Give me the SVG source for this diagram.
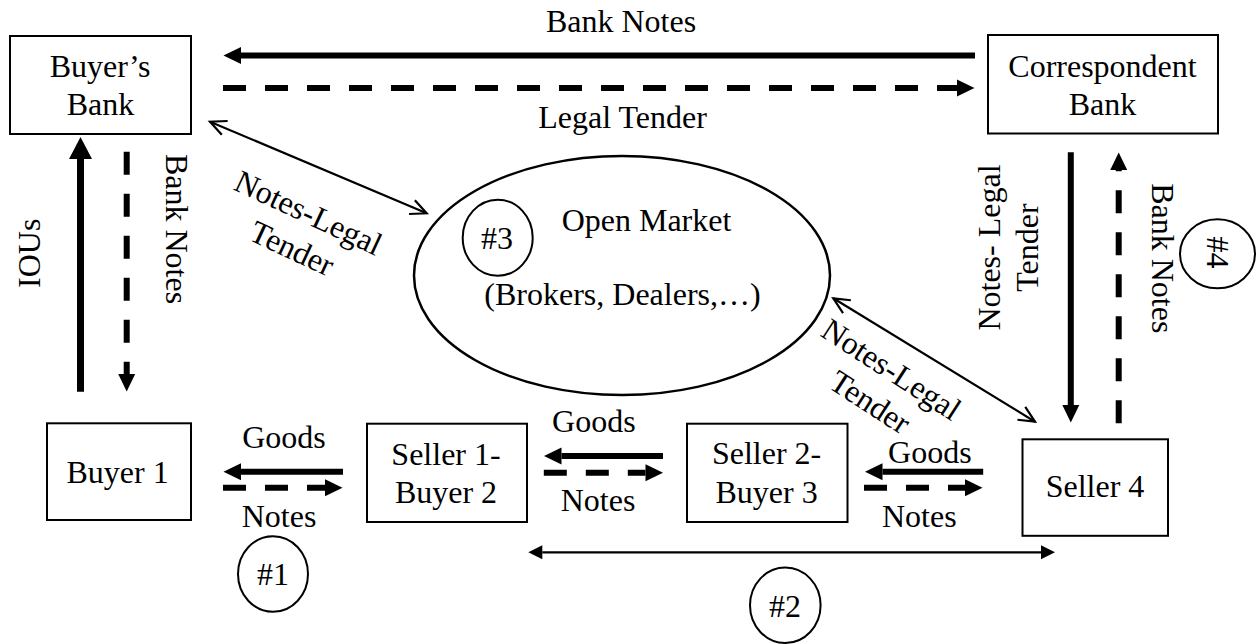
<svg xmlns="http://www.w3.org/2000/svg" width="1258" height="644" viewBox="0 0 1258 644" font-family="'Liberation Serif', 'Times New Roman', 'DejaVu Serif', serif">
<style>
  text { font-family: 'Liberation Serif', 'Times New Roman', 'DejaVu Serif', serif; font-size: 32px; fill: #000; text-anchor: middle; }
  .box { fill: #fff; stroke: #000; stroke-width: 2; }
  .ring { fill: none; stroke: #000; stroke-width: 2; }
  .solid { fill: none; stroke: #000; stroke-width: 6; }
  .dash { fill: none; stroke: #000; stroke-width: 6; stroke-dasharray: 23 19; }
  .thin { fill: none; stroke: #000; stroke-width: 2.2; }
</style>
<defs>
  <marker id="head" markerUnits="userSpaceOnUse" markerWidth="18" markerHeight="18" refX="0" refY="0" orient="auto" overflow="visible">
    <path d="M0,-8.5 L17.5,0 L0,8.5 z" fill="#000"/>
  </marker>
  <marker id="headL" markerUnits="userSpaceOnUse" markerWidth="23" markerHeight="23" refX="0" refY="0" orient="auto" overflow="visible">
    <path d="M0,-11.5 L22,0 L0,11.5 z" fill="#000"/>
  </marker>
  <marker id="headT" markerUnits="userSpaceOnUse" markerWidth="15" markerHeight="15" refX="0" refY="0" orient="auto-start-reverse" overflow="visible">
    <path d="M0,-7 L14,0 L0,7 z" fill="#000"/>
  </marker>
  <marker id="open" markerUnits="userSpaceOnUse" markerWidth="20" markerHeight="20" refX="0" refY="0" orient="auto-start-reverse" overflow="visible">
    <path d="M-16,-7.5 L0,0 L-16,7.5" fill="none" stroke="#000" stroke-width="2.2"/>
  </marker>
</defs>

<g id="connectors">
  <line class="solid" x1="975" y1="55.5" x2="241" y2="55.5" marker-end="url(#head)"/>
  <line class="dash" x1="223" y1="88" x2="957" y2="88" marker-end="url(#head)"/>
  <line class="solid" style="stroke-width:7" x1="80.5" y1="391.7" x2="80.5" y2="159" marker-end="url(#headL)"/>
  <line class="dash" x1="126.7" y1="151.7" x2="126.7" y2="374" marker-end="url(#head)"/>
  <line class="solid" x1="1070.8" y1="152.3" x2="1070.8" y2="405" marker-end="url(#head)"/>
  <line class="dash" x1="1118.7" y1="423.3" x2="1118.7" y2="170" marker-end="url(#head)"/>
  <line class="thin" x1="210" y1="121.7" x2="426.7" y2="213.3" marker-start="url(#open)" marker-end="url(#open)"/>
  <line class="thin" x1="833.3" y1="298.3" x2="1035" y2="421.7" marker-start="url(#open)" marker-end="url(#open)"/>
  <line class="solid" x1="343" y1="471.7" x2="241" y2="471.7" marker-end="url(#head)"/>
  <line class="dash" x1="223" y1="487.7" x2="325" y2="487.7" marker-end="url(#head)"/>
  <line class="solid" x1="663" y1="456" x2="561.5" y2="456" marker-end="url(#head)"/>
  <line class="dash" x1="543.8" y1="472.7" x2="645.5" y2="472.7" marker-end="url(#head)"/>
  <line class="solid" x1="983.2" y1="471.7" x2="882.5" y2="471.7" marker-end="url(#head)"/>
  <line class="dash" x1="864" y1="487.7" x2="965" y2="487.7" marker-end="url(#head)"/>
  <line class="thin" x1="542.3" y1="552.3" x2="1041" y2="552.3" marker-start="url(#headT)" marker-end="url(#headT)"/>
</g>

<g id="labels">
  <text x="621" y="31.5">Bank Notes</text>
  <text x="622.5" y="128.3">Legal Tender</text>
  <text transform="translate(40,253.3) rotate(-90)">IOUs</text>
  <text transform="translate(166,229) rotate(90)">Bank Notes</text>
  <text transform="translate(1000,247.5) rotate(-90)">Notes- Legal</text>
  <text transform="translate(1038,247.5) rotate(-90)">Tender</text>
  <text transform="translate(1152,258.3) rotate(90)">Bank Notes</text>
  <text transform="translate(304,222.5) rotate(25)">Notes-Legal</text>
  <text transform="translate(287.5,258) rotate(25)">Tender</text>
  <text transform="translate(885.6,378.4) rotate(33)">Notes-Legal</text>
  <text transform="translate(864.4,411.1) rotate(33)">Tender</text>
  <text x="284" y="448">Goods</text>
  <text x="279" y="526.7">Notes</text>
  <text x="593.8" y="431.7">Goods</text>
  <text x="598" y="511">Notes</text>
  <text x="929.8" y="463.3">Goods</text>
  <text x="919.3" y="526.7">Notes</text>
</g>

<g id="buyers-bank">
  <rect class="box" x="10" y="36" width="181" height="98"/>
  <text x="100" y="76.7">Buyer’s</text>
  <text x="100.5" y="115">Bank</text>
</g>

<g id="correspondent-bank">
  <rect class="box" x="988" y="35" width="230" height="98.5"/>
  <text x="1102.5" y="77.3">Correspondent</text>
  <text x="1102.5" y="115">Bank</text>
</g>

<g id="open-market">
  <ellipse cx="622" cy="275.5" rx="208" ry="119.5" fill="none" stroke="#000" stroke-width="2.5"/>
  <text x="646.5" y="231">Open Market</text>
  <text x="622.5" y="305">(Brokers, Dealers,…)</text>
</g>

<g id="tag-3">
  <ellipse class="ring" cx="497.7" cy="237.7" rx="35" ry="38"/>
  <text x="497" y="249.3">#3</text>
</g>

<g id="buyer-1">
  <rect class="box" x="47" y="423.3" width="144" height="96.7"/>
  <text x="117.6" y="482.7">Buyer 1</text>
</g>

<g id="seller-1-buyer-2">
  <rect class="box" x="367" y="423.7" width="160" height="98.3"/>
  <text x="446" y="465">Seller 1-</text>
  <text x="446" y="503">Buyer 2</text>
</g>

<g id="seller-2-buyer-3">
  <rect class="box" x="687" y="423.7" width="160.5" height="98.3"/>
  <text x="766.6" y="464">Seller 2-</text>
  <text x="766.6" y="503">Buyer 3</text>
</g>

<g id="seller-4">
  <rect class="box" x="1022.5" y="439.3" width="145.5" height="96.5"/>
  <text x="1095" y="497.3">Seller 4</text>
</g>

<g id="tag-1">
  <ellipse class="ring" cx="273" cy="574" rx="35" ry="37.8"/>
  <text x="273" y="585">#1</text>
</g>

<g id="tag-2">
  <ellipse class="ring" cx="785.3" cy="605.3" rx="35.3" ry="37.7"/>
  <text x="785" y="616.7">#2</text>
</g>

<g id="tag-4">
  <ellipse class="ring" cx="1217.5" cy="253.8" rx="37.5" ry="34.5"/>
  <text transform="translate(1207,252.5) rotate(90)">#4</text>
</g>
</svg>
